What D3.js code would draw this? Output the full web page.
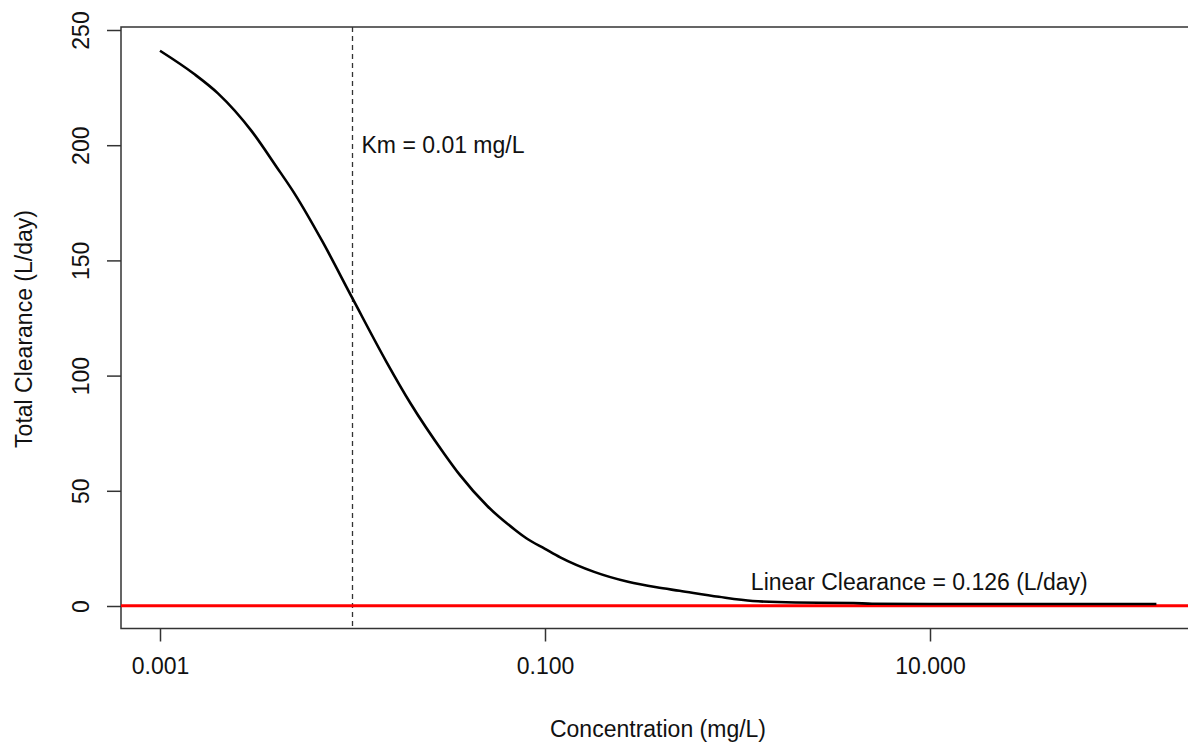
<!DOCTYPE html>
<html>
<head>
<meta charset="utf-8">
<script src="https://cdn.jsdelivr.net/npm/d3@7"></script>
<style>
  body { margin: 0; background: #fff; }
  text { font-family: "Liberation Sans", Arial, sans-serif; fill: #111; }
</style>
</head>
<body>
<script>
// Data
var concentration = [0.001, 0.0015, 0.002, 0.003, 0.004, 0.005, 0.007, 0.01, 0.015, 0.02,
                     0.03, 0.036, 0.05, 0.07, 0.08, 0.1, 0.12, 0.18, 0.27, 0.38, 0.5,
                     0.8, 1.2, 2, 4, 5, 10, 150];
var clearance = [241, 231, 222.5, 206, 191, 179, 158, 133.5, 106, 88,
                 66, 57, 43.5, 33, 29.4, 24.8, 21.1, 14.8, 10.5, 8.1, 6.6,
                 4.0, 2.2, 1.5, 1.3, 1.0, 0.9, 0.85];
var xTicks = [0.001, 0.1, 10];
var yTicks = [0, 50, 100, 150, 200, 250];
var km = 0.01;
var linearCl = 0.126;

var svgWidth = 1188;
var svgHeight = 745;

// Plot box (right edge runs past the window like the original)
var box = { left: 121, top: 27, right: 1196, bottom: 628.5 };

var svg = d3.select("body")
    .append("svg")
    .attr("width", svgWidth)
    .attr("height", svgHeight);

// Scales
var xScale = d3.scaleLog()
    .domain([0.001, 10])
    .range([160, 930]);

var yScale = d3.scaleLinear()
    .domain([0, 250])
    .range([606, 30]);

var points = concentration.map((c, i) => ({ c: c, v: clearance[i] }));

// Axes
var bottomAxis = d3.axisBottom(xScale)
    .tickValues(xTicks)
    .tickFormat(d3.format(".3f"))
    .tickSize(13)
    .tickPadding(16);

var leftAxis = d3.axisLeft(yScale)
    .tickValues(yTicks)
    .tickSize(14)
    .tickFormat(d3.format("d"));

var xAxisG = svg.append("g")
    .attr("transform", `translate(0, ${box.bottom})`)
    .call(bottomAxis);
xAxisG.select(".domain").remove();
xAxisG.selectAll("line").attr("stroke", "#333").attr("stroke-width", 1.5);
xAxisG.selectAll("text")
    .attr("font-size", 23)
    .attr("font-family", "Liberation Sans, Arial, sans-serif")
    .attr("fill", "#111");

var yAxisG = svg.append("g")
    .attr("transform", `translate(${box.left}, 0)`)
    .call(leftAxis);
yAxisG.select(".domain").remove();
yAxisG.selectAll("line").attr("stroke", "#333").attr("stroke-width", 1.5);
yAxisG.selectAll("text")
    .attr("font-size", 23)
    .attr("font-family", "Liberation Sans, Arial, sans-serif")
    .attr("fill", "#111")
    .attr("text-anchor", "middle")
    .attr("x", null)
    .attr("dy", null)
    .attr("transform", "translate(-32, 0) rotate(-90)");

// Plot box
svg.append("rect")
    .attr("x", box.left)
    .attr("y", box.top)
    .attr("width", box.right - box.left)
    .attr("height", box.bottom - box.top)
    .attr("fill", "none")
    .attr("stroke", "#333")
    .attr("stroke-width", 1.5);

// Km reference line
svg.append("line")
    .attr("x1", xScale(km))
    .attr("x2", xScale(km))
    .attr("y1", box.top)
    .attr("y2", box.bottom)
    .attr("stroke", "#333")
    .attr("stroke-width", 1.3)
    .attr("stroke-dasharray", "5,4");

// Linear clearance line
svg.append("line")
    .attr("x1", box.left)
    .attr("x2", box.right)
    .attr("y1", yScale(linearCl))
    .attr("y2", yScale(linearCl))
    .attr("stroke", "#ff0000")
    .attr("stroke-width", 3);

// Clearance curve
var line = d3.line()
    .x(d => xScale(d.c))
    .y(d => yScale(d.v))
    .curve(d3.curveMonotoneX);

svg.append("path")
    .datum(points)
    .attr("d", line)
    .attr("fill", "none")
    .attr("stroke", "#000")
    .attr("stroke-width", 2.6);

// Annotations
svg.append("text")
    .attr("x", xScale(km) + 9)
    .attr("y", yScale(200))
    .attr("dy", "0.35em")
    .attr("font-size", 23)
    .text("Km = 0.01 mg/L");

svg.append("text")
    .attr("x", xScale(8.8))
    .attr("y", yScale(10.4))
    .attr("dy", "0.35em")
    .attr("text-anchor", "middle")
    .attr("font-size", 23)
    .text("Linear Clearance = 0.126 (L/day)");

// Axis titles
svg.append("text")
    .attr("x", 658)
    .attr("y", 737)
    .attr("text-anchor", "middle")
    .attr("font-size", 23)
    .text("Concentration (mg/L)");

svg.append("text")
    .attr("transform", "translate(32, 329) rotate(-90)")
    .attr("text-anchor", "middle")
    .attr("font-size", 23)
    .text("Total Clearance (L/day)");
</script>
</body>
</html>
